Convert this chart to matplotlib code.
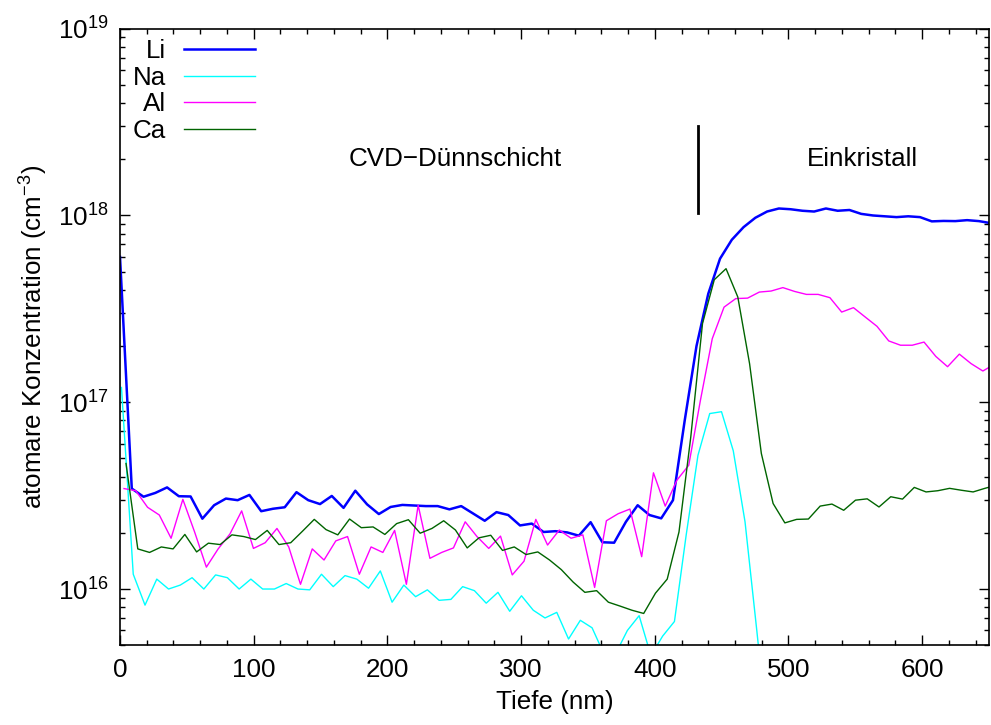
import numpy as np
import matplotlib
matplotlib.use('Agg')
import matplotlib.pyplot as plt
from matplotlib.ticker import LogLocator, MultipleLocator, NullFormatter

plt.rcParams['font.family'] = ['Liberation Sans', 'DejaVu Sans']
plt.rcParams['mathtext.fontset'] = 'custom'
plt.rcParams['mathtext.rm'] = 'Liberation Sans'
plt.rcParams['mathtext.it'] = 'Liberation Sans:italic'
plt.rcParams['font.size'] = 18.7

# SIMS-Tiefenprofile, Messraster 8.8 nm
step = 8.8
li_start, na_start, al_start, ca_start = 0.0, 1.1, 3.0, 4.5

li = [6.0e17, 3.45e16, 3.12e16, 3.27e16, 3.50e16, 3.14e16, 3.13e16, 2.38e16, 2.81e16, 3.05e16,
      2.99e16, 3.19e16, 2.61e16, 2.69e16, 2.74e16, 3.30e16, 2.99e16, 2.85e16, 3.15e16, 2.72e16,
      3.36e16, 2.84e16, 2.52e16, 2.75e16, 2.82e16, 2.80e16, 2.78e16, 2.78e16, 2.67e16, 2.78e16,
      2.54e16, 2.32e16, 2.58e16, 2.49e16, 2.19e16, 2.24e16, 2.02e16, 2.04e16, 2.01e16, 1.93e16,
      2.28e16, 1.78e16, 1.77e16, 2.29e16, 2.81e16, 2.49e16, 2.39e16, 2.99e16, 8.0e16, 2.0e17,
      3.81e17, 5.87e17, 7.41e17, 8.66e17, 9.72e17, 1.05e18, 1.09e18, 1.08e18, 1.06e18, 1.05e18,
      1.09e18, 1.06e18, 1.07e18, 1.02e18, 1.00e18, 0.99e18, 0.98e18, 0.99e18, 0.98e18, 0.93e18,
      0.935e18, 0.933e18, 0.944e18, 0.933e18, 0.91e18]

na = [1.2e17, 1.20e16, 0.82e16, 1.13e16, 1.00e16, 1.05e16, 1.15e16, 1.00e16, 1.19e16, 1.15e16,
      1.00e16, 1.13e16, 1.00e16, 1.00e16, 1.07e16, 1.00e16, 0.99e16, 1.20e16, 1.03e16, 1.18e16,
      1.13e16, 1.01e16, 1.25e16, 0.85e16, 1.05e16, 0.91e16, 0.99e16, 0.87e16, 0.88e16, 1.03e16,
      0.98e16, 0.84e16, 0.96e16, 0.76e16, 0.92e16, 0.77e16, 0.70e16, 0.75e16, 0.54e16, 0.68e16,
      0.62e16, 0.45e16, 0.45e16, 0.60e16, 0.72e16, 0.44e16, 0.56e16, 0.67e16, 1.95e16, 5.2e16,
      8.7e16, 8.9e16, 5.5e16, 2.29e16, 0.60e16, 0.15e16, 0.10e16]

al = [3.45e16, 3.36e16, 2.74e16, 2.49e16, 1.87e16, 3.02e16, 2.02e16, 1.31e16, 1.64e16, 1.97e16,
      2.62e16, 1.65e16, 1.77e16, 2.11e16, 1.68e16, 1.06e16, 1.64e16, 1.43e16, 1.81e16, 1.91e16,
      1.20e16, 1.68e16, 1.57e16, 2.06e16, 1.06e16, 2.81e16, 1.46e16, 1.57e16, 1.66e16, 2.29e16,
      1.91e16, 1.65e16, 1.92e16, 1.19e16, 1.41e16, 2.36e16, 1.72e16, 2.07e16, 1.87e16, 1.95e16,
      1.02e16, 2.32e16, 2.53e16, 2.68e16, 1.49e16, 4.19e16, 2.78e16, 3.83e16, 4.60e16, 1.03e17,
      2.19e17, 3.23e17, 3.59e17, 3.61e17, 3.89e17, 3.94e17, 4.11e17, 3.92e17, 3.78e17, 3.78e17,
      3.63e17, 3.04e17, 3.21e17, 2.86e17, 2.55e17, 2.13e17, 2.02e17, 2.02e17, 2.10e17, 1.76e17,
      1.55e17, 1.81e17, 1.61e17, 1.47e17, 1.60e17]

ca = [4.7e16, 1.64e16, 1.57e16, 1.68e16, 1.64e16, 1.96e16, 1.58e16, 1.76e16, 1.73e16, 1.95e16,
      1.91e16, 1.84e16, 2.06e16, 1.73e16, 1.77e16, 2.04e16, 2.36e16, 2.08e16, 1.95e16, 2.37e16,
      2.13e16, 2.15e16, 1.96e16, 2.24e16, 2.35e16, 1.99e16, 2.11e16, 2.32e16, 2.07e16, 1.66e16,
      1.88e16, 1.94e16, 1.61e16, 1.68e16, 1.53e16, 1.58e16, 1.43e16, 1.27e16, 1.09e16, 0.96e16,
      0.98e16, 0.85e16, 0.81e16, 0.77e16, 0.74e16, 0.95e16, 1.13e16, 2.02e16, 6.5e16, 2.64e17,
      4.53e17, 5.19e17, 3.66e17, 1.61e17, 5.32e16, 2.87e16, 2.26e16, 2.36e16, 2.37e16, 2.78e16,
      2.85e16, 2.64e16, 2.99e16, 3.04e16, 2.75e16, 3.12e16, 3.03e16, 3.50e16, 3.31e16, 3.36e16,
      3.46e16, 3.38e16, 3.31e16, 3.46e16, 3.60e16]

labels = ['Li', 'Na', 'Al', 'Ca']
colors = ['#0000ff', '#00ffff', '#ff00ff', '#006400']
widths = [1.8, 1.0, 1.0, 1.0]

# Grenze Schicht / Substrat
grenze = 432.5
grenze_y = (1.03e18, 3.0e18)

fig = plt.figure(figsize=(9.91, 7.25), dpi=100)
ax = fig.add_axes([0.1211, 0.110, 0.8769, 0.8504])

series = [(li_start, li), (na_start, na), (al_start, al), (ca_start, ca)]
for (start, vals), lab, col, lw in zip(series, labels, colors, widths):
    x = start + step * np.arange(len(vals))
    ax.plot(x, vals, color=col, linewidth=lw, label=lab)

ax.plot([grenze, grenze], grenze_y, color='black', linewidth=2)
ax.text(251, 2.0e18, 'CVD\u2212Dünnschicht', ha='center', va='center')
ax.text(555, 2.0e18, 'Einkristall', ha='center', va='center')

ax.set_yscale('log')
ax.set_xlim(0, 650)
ax.set_ylim(5e15, 1e19)
ax.xaxis.set_major_locator(MultipleLocator(100))
ax.xaxis.set_minor_locator(MultipleLocator(20))
ax.yaxis.set_major_locator(LogLocator(base=10, numticks=10))
ax.yaxis.set_minor_locator(LogLocator(base=10, subs=np.arange(2, 10), numticks=20))
ax.yaxis.set_minor_formatter(NullFormatter())
ax.tick_params(which='both', direction='in', top=True, right=True, width=1)
ax.tick_params(which='major', length=7)
ax.tick_params(axis='x', which='major', pad=9)
ax.tick_params(axis='y', which='major', pad=8)
ax.tick_params(which='minor', length=3.5)
for s in ax.spines.values():
    s.set_linewidth(1.2)

ax.set_xlabel('Tiefe (nm)', labelpad=6)
ax.set_ylabel('atomare Konzentration (cm$^{-3}$)', labelpad=6)

leg = ax.legend(loc='upper left', bbox_to_anchor=(0.003, 1.0), frameon=False,
                markerfirst=False, handlelength=2.72, handletextpad=0.69,
                labelspacing=0.1, borderpad=0.4, borderaxespad=0.0)

fig.savefig('out.png', dpi=100)
